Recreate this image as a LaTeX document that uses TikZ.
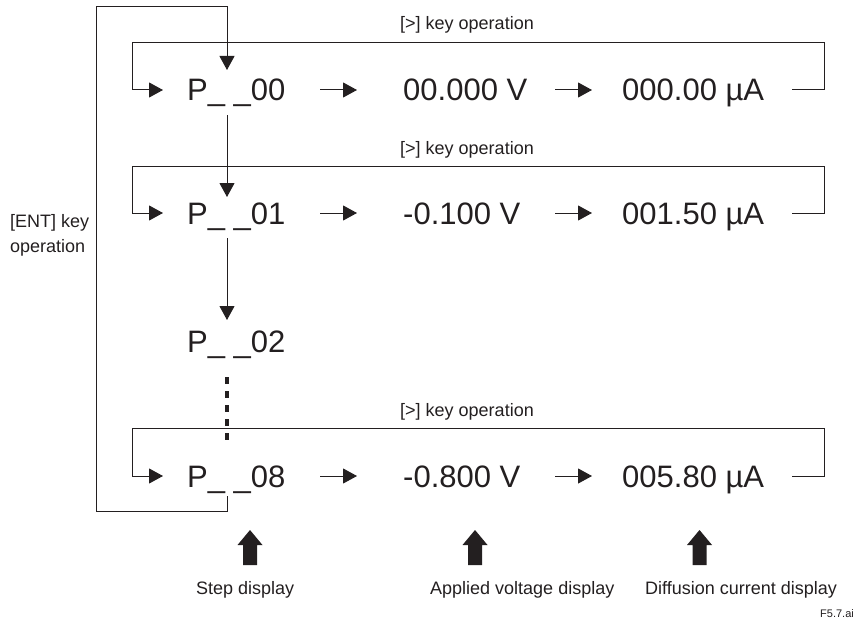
\documentclass[tikz,border=0pt]{standalone}
\usepackage{fontspec}
\setmainfont{Liberation Sans}
\usetikzlibrary{arrows.meta}
\definecolor{ink}{HTML}{231F20}
\begin{document}
\begin{tikzpicture}[x=1pt,y=-1pt,
  big/.style={font=\fontsize{31}{37}\selectfont, inner sep=0pt, anchor=base west, text=ink},
  lbl/.style={font=\fontsize{18}{22}\selectfont, inner sep=0pt, anchor=base west, text=ink},
  conn/.style={draw=ink, line width=1pt},
  arr/.style={conn, -{Triangle[length=14pt,width=15pt]}},
  dots/.style={draw=ink, line width=4pt, dash pattern=on 7pt off 7pt},
  ptr/.style={fill=ink}
  ]
\useasboundingbox (0,0) rectangle (858,623);

% rows of displays
\node[big] (p0) at (187,101) {P\_ \_00};
\node[big] (v0) at (403,101) {00.000 V};
\node[big] (a0) at (622,101) {000.00 µA};

\node[big] (p1) at (187,224) {P\_ \_01};
\node[big] (v1) at (403,224) {-0.100 V};
\node[big] (a1) at (622,224) {001.50 µA};

\node[big] (p2) at (187,352) {P\_ \_02};

\node[big] (p8) at (187,487) {P\_ \_08};
\node[big] (v8) at (403,487) {-0.800 V};
\node[big] (a8) at (622,487) {005.80 µA};

% key labels
\node[lbl] (k0) at (400,30) {[>] key operation};
\node[lbl] (k1) at (400,154) {[>] key operation};
\node[lbl] (k8) at (400,416) {[>] key operation};
\node[lbl] (ent1) at (10,227) {[ENT] key};
\node[lbl] (ent2) at (10,252) {operation};

% row loops and arrows
\foreach \t/\c in {43/90,166/213,428/476}{
  \draw[arr] (320,\c) -- (357,\c);
  \draw[arr] (555,\c) -- (592,\c);
  \draw[arr] (792,\c) -- (824,\c) -- (824,\t) -- (132,\t) -- (132,\c) -- (163,\c);
}

% ENT loop
\coordinate (entstart) at (227,496);
\coordinate (enttip) at (227,70);
\draw[arr] (entstart) -- (227,511) -- (96,511) -- (96,7) -- (227,7) -- (enttip);

% step arrows
\draw[arr] (227,115) -- (227,197);
\draw[arr] (227,238) -- (227,320);
\draw[dots] (227,377) -- (227,441);

% pointer arrows
\foreach \x in {250,475,699.5}{
  \fill[ptr] (\x-7,565) -- (\x-7,545) -- (\x-12.5,545) -- (\x,530) -- (\x+12.5,545) -- (\x+7,545) -- (\x+7,565) -- cycle;
}

% captions
\node[lbl] (c1) at (196,594) {Step display};
\node[lbl] (c2) at (430,594) {Applied voltage display};
\node[lbl] (c3) at (645,594) {Diffusion current display};
\node[font=\fontsize{11}{13}\selectfont, inner sep=0pt, anchor=base east, text=ink] (fig) at (854,617) {F5.7.ai};
\end{tikzpicture}
\end{document}
